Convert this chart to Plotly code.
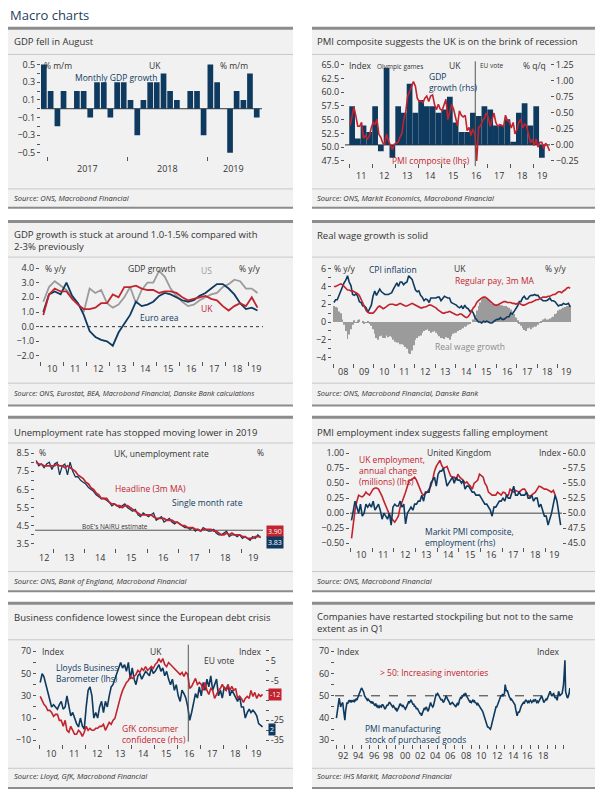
import pandas as pd
import plotly.graph_objects as go

W, H = 600, 797
DAY = 86400000
NAVY = "#0f3a5f"
RED = "#c1232f"
GREY = "#9b9b9b"
TXT = "#333333"
TICKC = "#555555"
FONT = "Open Sans"
PANEL = "#f1f1f1"
BORDER = "#8c8c8c"
SEP = "#c8c8c8"

# ---------------- 1. Monthly GDP growth, % m/m ----------------
gdp_mm_start = "2016-12-01"
gdp_mm = [0.5,
          0.2, -0.2, 0.2, 0.0, 0.2, 0.2, -0.1, 0.3, 0.3, -0.1, 0.3, 0.3,
          0.1, -0.3, 0.1, 0.3, 0.3, 0.4, 0.2, 0.1, 0.0, 0.2, 0.2, -0.3,
          0.5, 0.3, 0.0, -0.5, 0.2, 0.1, 0.4, -0.1]
c1_labels = ["2017", "2018", "2019"]
c1_label_dates = ["2017-07-01", "2018-07-01", "2019-05-01"]

# ---------------- 2. PMI composite vs GDP q/q ----------------
gdp_qq_start = "2011-01-01"
gdp_qq = [0.6, 0.1, 0.3, 0.2, 0.6, -0.1, 1.2, -0.2, 0.6, 0.5, 0.95, 0.5,
          0.7, 0.6, 0.6, 0.5, 0.55, 0.75, 0.35, 0.2, 0.2, 0.5, 0.45, 0.6,
          0.55, 0.3, 0.3, 0.4, 0.05, 0.5, 0.65, 0.3, 0.6, -0.2]
pmi_comp_start = "2011-01-01"
pmi_comp = [53.9, 56.0, 57.3, 55.7, 53.8, 53.8, 54.5, 51.6, 52.2, 51.4, 52.0, 53.5,
            54.5, 54.1, 55.1, 52.3, 51.8, 50.8, 50.4, 52.4, 51.1, 50.4, 49.6, 50.5,
            50.7, 50.9, 51.8, 52.5, 55.0, 56.4, 59.2, 60.2, 60.8, 61.9, 61.1, 58.9,
            58.3, 58.4, 58.1, 58.9, 59.3, 58.3, 59.3, 59.5, 57.8, 56.8, 57.8, 56.9,
            56.7, 57.7, 58.7, 55.0, 56.6, 57.8, 56.9, 55.1, 53.9, 56.6, 55.8, 55.5,
            55.8, 53.0, 53.6, 52.1, 53.3, 52.4, 47.5, 53.6, 53.9, 54.8, 55.2, 56.2,
            55.5, 53.8, 54.9, 56.2, 54.5, 53.8, 54.1, 54.0, 53.7, 55.8, 54.8, 54.7,
            53.5, 54.5, 52.4, 53.2, 54.5, 55.1, 53.5, 54.2, 53.9, 52.1, 50.8, 51.4,
            50.3, 51.5, 50.0, 50.9, 50.9, 49.7, 50.7, 50.2, 49.3]
eu_vote = "2016-06-23"
c2_labels = ["11", "12", "13", "14", "15", "16", "17", "18", "19"]
c2_label_dates = ["2011-07-01", "2012-07-01", "2013-07-01", "2014-07-01", "2015-07-01",
                  "2016-07-01", "2017-07-01", "2018-07-01", "2019-05-15"]

# ---------------- 3. GDP growth y/y ----------------
gdp_yy_start = "2010-01-01"
uk_yy = [0.8, 2.2, 2.6, 2.4, 2.4, 1.9, 1.5, 1.2, 1.2, 1.3, 1.6, 1.6, 2.2, 2.0, 2.7, 2.7,
         2.8, 2.6, 2.5, 2.5, 2.3, 2.4, 2.4, 2.3, 2.0, 1.8, 1.9, 2.0, 2.1, 1.9, 1.8, 1.4,
         1.1, 1.4, 1.6, 1.4, 2.0, 1.3]
ea_yy = [1.0, 2.2, 2.4, 2.2, 3.0, 2.1, 1.6, 0.8, -0.3, -0.7, -0.9, -1.0, -1.3, -0.4, 0.2, 0.8,
         1.7, 1.4, 1.5, 1.7, 2.1, 2.3, 2.2, 2.0, 1.8, 1.7, 1.8, 2.1, 2.3, 2.6, 2.9, 2.9,
         2.6, 2.2, 1.6, 1.2, 1.3, 1.1]
us_yy = [1.7, 2.7, 3.1, 2.8, 2.5, 2.0, 1.6, 1.0, 2.6, 2.3, 2.5, 1.6, 1.3, 1.5, 2.0, 2.7,
         1.6, 2.5, 3.0, 3.0, 3.8, 3.4, 2.6, 2.1, 1.7, 1.4, 1.5, 1.8, 2.0, 2.2, 2.3, 2.7,
         2.9, 3.2, 3.1, 2.6, 2.6, 2.3]
c3_labels = ["10", "11", "12", "13", "14", "15", "16", "17", "18", "19"]
c3_label_dates = ["2010-07-01", "2011-07-01", "2012-07-01", "2013-07-01", "2014-07-01",
                  "2015-07-01", "2016-07-01", "2017-07-01", "2018-07-01", "2019-04-15"]

# ---------------- 4. Real wage growth ----------------
wage_start = "2008-01-01"
cpi = [2.2, 2.5, 2.5, 3.0, 3.3, 3.8, 4.4, 4.7, 5.2, 4.5, 4.1, 3.1,
       3.0, 3.2, 2.9, 2.3, 2.2, 1.8, 1.8, 1.6, 1.1, 1.5, 1.9, 2.9,
       3.5, 3.0, 3.4, 3.7, 3.4, 3.2, 3.1, 3.1, 3.1, 3.2, 3.3, 3.7,
       4.0, 4.4, 4.0, 4.5, 4.5, 4.2, 4.4, 4.5, 5.2, 5.0, 4.8, 4.2,
       3.6, 3.4, 3.5, 3.0, 2.8, 2.4, 2.6, 2.5, 2.2, 2.7, 2.7, 2.7,
       2.7, 2.8, 2.8, 2.4, 2.7, 2.9, 2.8, 2.7, 2.7, 2.2, 2.1, 2.0,
       1.9, 1.7, 1.6, 1.8, 1.5, 1.9, 1.6, 1.5, 1.2, 1.3, 1.0, 0.5,
       0.3, 0.0, 0.0, -0.1, 0.1, 0.0, 0.1, 0.0, -0.1, -0.1, 0.1, 0.2,
       0.3, 0.3, 0.5, 0.3, 0.3, 0.5, 0.6, 0.6, 1.0, 0.9, 1.2, 1.6,
       1.8, 2.3, 2.3, 2.7, 2.9, 2.6, 2.6, 2.9, 3.0, 3.0, 3.1, 3.0,
       3.0, 2.7, 2.5, 2.4, 2.4, 2.4, 2.5, 2.7, 2.4, 2.4, 2.3, 2.1,
       1.8, 1.9, 1.9, 2.1, 2.0, 2.0, 2.1, 1.7]
pay = [4.0, 4.0, 4.1, 4.2, 4.3, 4.2, 4.0, 3.8, 3.6, 3.6, 3.5, 3.5,
       3.4, 3.3, 3.2, 3.0, 2.6, 2.0, 1.6, 1.3, 1.1, 1.0, 1.0, 1.0,
       1.2, 1.5, 1.7, 1.8, 1.6, 1.5, 1.6, 1.8, 1.9, 2.0, 2.0, 2.0,
       1.9, 1.9, 2.0, 2.1, 2.0, 1.9, 1.8, 1.8, 1.9, 2.0, 2.1, 2.0,
       1.9, 1.8, 1.7, 1.6, 1.6, 1.7, 1.7, 1.8, 1.9, 1.9, 1.8, 1.7,
       1.6, 1.4, 1.3, 1.1, 1.0, 1.0, 1.1, 1.1, 1.2, 1.1, 1.0, 0.9,
       0.8, 0.8, 0.9, 0.9, 0.7, 0.6, 0.5, 0.6, 0.9, 1.3, 1.6, 1.8,
       2.2, 2.4, 2.6, 2.7, 2.8, 2.8, 2.7, 2.5, 2.3, 2.1, 2.0, 1.9,
       1.9, 2.0, 2.1, 2.2, 2.3, 2.3, 2.2, 2.2, 2.2, 2.1, 2.1, 2.0,
       2.1, 2.1, 2.0, 1.9, 1.9, 2.0, 2.1, 2.2, 2.2, 2.3, 2.4, 2.5,
       2.5, 2.6, 2.7, 2.8, 2.8, 2.8, 2.9, 2.9, 3.0, 3.1, 3.1, 3.3,
       3.4, 3.4, 3.3, 3.5, 3.6, 3.8, 3.9, 3.8]
real_wage = [1.8, 1.7, 1.6, 1.2, 1.0, 0.3, -0.3, -1.0, -1.9, -1.4, -0.8, -0.3,
             0.2, -0.1, 0.2, 0.3, 0.0, 0.1, -0.2, -0.1, 0.1, -0.2, -0.4, -0.8,
             -1.3, -1.8, -2.0, -1.6, -1.5, -1.8, -1.8, -1.5, -1.7, -1.6, -1.7, -2.0,
             -2.2, -2.3, -2.3, -2.5, -2.5, -2.6, -2.8, -3.0, -3.5, -3.6, -3.2, -2.6,
             -2.0, -1.8, -1.6, -1.5, -1.2, -1.0, -0.9, -0.8, -1.0, -1.2, -1.1, -1.0,
             -1.2, -1.4, -1.6, -1.8, -1.8, -1.9, -1.7, -1.8, -2.0, -1.6, -1.3, -1.2,
             -1.2, -1.0, -0.9, -0.8, -0.7, -0.5, -0.5, -0.3, -0.2, 0.0, 0.3, 0.8,
             1.3, 1.8, 2.2, 2.5, 2.7, 2.8, 2.7, 2.5, 2.3, 2.1, 2.0, 1.9,
             1.9, 2.0, 1.9, 1.9, 1.8, 1.8, 1.7, 1.6, 1.4, 1.2, 0.9, 0.5,
             0.2, -0.2, -0.4, -0.7, -0.9, -1.0, -0.7, -0.6, -0.8, -0.6, -0.5, -0.5,
             -0.3, -0.1, 0.1, 0.3, 0.4, 0.3, 0.3, 0.4, 0.5, 0.6, 0.9, 1.0,
             1.3, 1.4, 1.5, 1.6, 1.7, 1.8, 1.8, 1.9]
c4_labels = ["08", "09", "10", "11", "12", "13", "14", "15", "16", "17", "18", "19"]
c4_label_dates = ["2008-07-01", "2009-07-01", "2010-07-01", "2011-07-01", "2012-07-01",
                  "2013-07-01", "2014-07-01", "2015-07-01", "2016-07-01", "2017-07-01",
                  "2018-07-01", "2019-06-05"]

# ---------------- 5. Unemployment rate ----------------
unemp_start = "2012-06-01"
unemp_3m = [8.0, 7.9, 7.9, 7.8, 7.8, 7.8, 7.8,
            7.8, 7.9, 7.8, 7.8, 7.7, 7.8, 7.7, 7.6, 7.5, 7.3, 7.2, 7.1,
            6.9, 6.8, 6.6, 6.5, 6.3, 6.2, 6.0, 6.0, 6.0, 5.8, 5.7, 5.7,
            5.6, 5.6, 5.5, 5.6, 5.6, 5.5, 5.4, 5.3, 5.2, 5.1, 5.1, 5.1,
            5.1, 5.1, 5.0, 4.9, 4.9, 4.9, 4.9, 4.8, 4.8, 4.8, 4.7, 4.7,
            4.6, 4.5, 4.5, 4.4, 4.4, 4.4, 4.3, 4.3, 4.2, 4.3, 4.3, 4.3,
            4.3, 4.2, 4.2, 4.1, 4.0, 4.0, 4.1, 4.0, 4.1, 4.0, 4.0, 4.0,
            3.9, 3.9, 3.8, 3.8, 3.8, 3.9, 3.9, 3.9]
unemp_1m = [8.1, 7.8, 7.9, 7.7, 7.9, 8.0, 7.6,
            7.9, 8.0, 7.3, 7.8, 7.9, 7.3, 8.0, 7.5, 7.2, 7.2, 7.0, 6.9,
            6.8, 6.6, 6.5, 6.4, 6.2, 6.1, 6.0, 6.0, 5.9, 5.8, 5.6, 5.7,
            5.6, 5.5, 5.6, 5.7, 5.5, 5.4, 5.3, 5.4, 5.1, 5.0, 5.2, 5.1,
            5.0, 5.1, 5.2, 4.8, 4.9, 5.0, 4.7, 4.8, 4.9, 4.7, 4.6, 4.7,
            4.6, 4.5, 4.4, 4.4, 4.3, 4.4, 4.2, 4.3, 4.2, 4.4, 4.3, 4.2,
            4.2, 4.3, 4.1, 4.0, 4.0, 4.1, 4.2, 3.9, 4.0, 4.0, 3.9, 4.0,
            3.8, 3.9, 3.8, 3.7, 3.9, 3.8, 4.0, 3.83]
nairu = 4.25
c5_labels = ["12", "13", "14", "15", "16", "17", "18", "19"]
c5_label_dates = ["2012-09-15", "2013-07-01", "2014-07-01", "2015-07-01", "2016-07-01",
                  "2017-07-01", "2018-07-01", "2019-05-20"]
c5_right_ticks = [3.5, 4.5, 5.5, 6.5, 7.5, 8.5]
c5_right_text = ["", "4.5", "5.5", "6.5", "7.5", "8.5"]

# ---------------- 6. Employment vs PMI employment ----------------
emp_start = "2010-01-01"
emp_change = [-0.42, -0.15, 0.05, 0.2, 0.3, 0.28, 0.27, 0.3, 0.35, 0.32, 0.3, 0.35,
              0.4, 0.42, 0.42, 0.4, 0.35, 0.28, 0.2, 0.12, 0.05, -0.02, -0.08, -0.12,
              -0.15, -0.1, -0.05, 0.1, 0.18, 0.25, 0.35, 0.45, 0.55, 0.55, 0.58, 0.6,
              0.55, 0.48, 0.4, 0.33, 0.3, 0.32, 0.35, 0.4, 0.45, 0.55, 0.7, 0.78,
              0.82, 0.88, 0.8, 0.75, 0.76, 0.78, 0.7, 0.62, 0.6, 0.6, 0.55, 0.65,
              0.6, 0.58, 0.55, 0.5, 0.52, 0.48, 0.45, 0.4, 0.5, 0.52, 0.55, 0.65,
              0.62, 0.6, 0.5, 0.45, 0.35, 0.32, 0.3, 0.3, 0.3, 0.35, 0.32, 0.3,
              0.35, 0.34, 0.3, 0.3, 0.4, 0.38, 0.35, 0.38, 0.36, 0.35, 0.38, 0.4,
              0.4, 0.35, 0.3, 0.28, 0.3, 0.33, 0.35, 0.4, 0.45, 0.44, 0.42, 0.4,
              0.4, 0.39, 0.37, 0.35, 0.38, 0.3]
pmi_emp = [48.8, 50.5, 52.0, 51.0, 50.0, 51.5, 49.5, 50.0, 51.5, 51.0, 51.5, 51.0,
           52.0, 50.5, 51.0, 51.5, 50.5, 49.0, 50.0, 49.5, 49.0, 50.0, 48.0, 51.0,
           51.5, 51.2, 51.2, 52.0, 51.0, 51.5, 48.2, 50.0, 50.5, 51.0, 50.5, 51.5,
           51.5, 52.0, 52.0, 53.0, 52.0, 53.5, 53.5, 53.5, 55.0, 55.5, 56.0, 54.5,
           56.5, 57.0, 57.0, 57.5, 56.0, 54.5, 55.0, 55.5, 56.0, 55.0, 56.0, 55.5,
           55.5, 55.0, 55.5, 54.0, 54.5, 54.5, 54.0, 53.5, 53.5, 53.0, 53.0, 53.0,
           52.5, 52.0, 51.5, 51.5, 51.0, 50.5, 49.5, 51.0, 51.0, 51.5, 52.0, 52.0,
           52.5, 52.0, 53.0, 52.5, 52.5, 53.5, 54.5, 53.0, 53.0, 53.5, 53.0, 53.0,
           53.0, 53.5, 52.5, 52.5, 53.0, 52.0, 52.5, 52.5, 51.0, 51.5, 50.5, 49.5,
           49.5, 48.0, 49.0, 50.0, 51.5, 53.0, 52.0, 50.0, 48.0]
c6_labels = ["10", "11", "12", "13", "14", "15", "16", "17", "18", "19"]
c6_label_dates = ["2010-07-01", "2011-07-01", "2012-07-01", "2013-07-01", "2014-07-01",
                  "2015-07-01", "2016-07-01", "2017-07-01", "2018-07-01", "2019-05-20"]

# ---------------- 7. Business and consumer confidence ----------------
conf_start = "2010-01-01"
lloyds = [42, 50, 47, 40, 33, 26, 20, 22, 20, 18, 22, 25,
          18, 20, 30, 22, 12, 15, 10, 5, 2, 10, 3, 0,
          20, 35, 38, 30, 10, 15, 10, 20, 25, 15, 25, 20,
          30, 38, 40, 45, 50, 55, 60, 55, 58, 52, 60, 45,
          55, 45, 40, 48, 50, 45, 48, 52, 50, 48, 55, 50,
          52, 55, 58, 52, 55, 48, 52, 45, 40, 45, 35, 40,
          30, 25, 35, 32, 28, 20, 8, 15, 25, 32, 28, 38,
          30, 42, 35, 45, 38, 48, 35, 40, 45, 30, 35, 28,
          38, 35, 40, 30, 35, 32, 28, 25, 30, 20, 20, 10,
          15, 18, 15, 17, 15, 12, 5, 3, 2]
gfk = [-13, -15, -17, -18, -20, -20, -21, -23, -22, -22, -25, -25,
       -28, -25, -30, -31, -28, -30, -32, -32, -30, -31, -33, -31,
       -28, -30, -29, -30, -30, -29, -29, -28, -28, -27, -30, -28,
       -26, -27, -25, -24, -20, -16, -13, -10, -8, -6, -5, -3,
       -4, -3, -2, 0, -1, 1, 0, 2, 0, 1, 2, 1,
       3, 4, 6, 4, 6, 3, 2, 4, 3, 2, 1, 0,
       -1, -2, -1, -3, -1, -2, -9, -8, -6, -4, -7, -6,
       -7, -10, -6, -10, -12, -9, -10, -14, -12, -10, -9, -7,
       -9, -10, -7, -10, -8, -10, -9, -14, -13, -14, -16, -14,
       -13, -14, -10, -13, -11, -14, -12, -13, -12]
c7_labels = ["10", "11", "12", "13", "14", "15", "16", "17", "18", "19"]
c7_label_dates = ["2010-07-01", "2011-07-01", "2012-07-01", "2013-07-01", "2014-07-01",
                  "2015-07-01", "2016-07-01", "2017-07-01", "2018-07-01", "2019-05-27"]
c7_right_ticks = [5, -5, -15, -25, -35]
c7_right_text = ["5", "-5", "", "-25", "-35"]

# ---------------- 8. PMI manufacturing stock of purchased goods ----------------
stocks_start = "1992-01-01"
stocks = [40.0, 43.0, 46.0, 47.0, 49.0, 47.0, 45.0, 46.0, 47.0, 47.0, 44.0, 41.0,
          39.0, 43.0, 46.0, 47.0, 46.5, 47.5, 48.0, 47.5, 48.0, 47.0, 48.0, 47.5,
          47.5, 48.0, 47.5, 48.0, 48.5, 48.0, 49.0, 50.0, 51.0, 51.5, 52.0, 53.0,
          53.5, 53.0, 52.0, 51.5, 50.0, 49.5, 49.0, 48.5, 48.0, 48.5, 48.0, 47.5,
          47.5, 47.0, 47.5, 46.5, 47.0, 46.0, 46.0, 45.5, 46.5, 45.5, 45.0, 45.5,
          45.0, 44.5, 45.5, 45.0, 45.0, 46.0, 46.0, 45.5, 45.0, 44.0, 44.5, 45.5,
          46.0, 45.5, 46.5, 47.0, 47.0, 46.5, 46.0, 45.5, 45.0, 45.5, 44.5, 44.5,
          44.0, 44.5, 43.0, 43.5, 44.5, 45.0, 46.0, 46.5, 45.5, 46.0, 45.0, 45.5,
          45.0, 44.5, 44.0, 44.5, 45.5, 46.0, 47.0, 47.5, 47.0, 47.5, 48.0, 47.5,
          47.0, 46.0, 46.5, 45.0, 45.5, 45.0, 44.0, 44.5, 43.5, 43.0, 42.5, 42.0,
          42.0, 41.0, 42.0, 43.0, 44.0, 44.5, 44.0, 45.0, 45.0, 44.0, 43.0, 43.5,
          45.0, 46.0, 47.0, 46.0, 45.5, 45.0, 45.5, 47.0, 48.0, 49.0, 51.0, 50.5,
          51.0, 50.5, 50.0, 49.5, 49.0, 48.0, 48.5, 47.5, 47.0, 47.5, 48.0, 49.0,
          50.0, 49.0, 48.5, 48.0, 47.5, 47.0, 46.0, 46.5, 47.0, 47.0, 46.5, 46.0,
          45.5, 45.0, 45.0, 46.0, 46.5, 46.0, 46.5, 48.0, 49.0, 49.5, 49.0, 50.0,
          50.0, 50.5, 50.0, 51.0, 51.0, 50.0, 49.5, 49.0, 48.5, 48.0, 47.0, 47.5,
          47.0, 47.5, 48.0, 47.5, 48.0, 47.0, 47.0, 46.5, 46.0, 46.5, 46.0, 45.5,
          45.0, 45.0, 44.5, 44.0, 43.0, 42.0, 41.0, 40.0, 38.0, 37.5, 37.0, 36.0,
          36.0, 35.5, 35.0, 35.0, 36.0, 37.5, 38.0, 40.0, 42.0, 43.0, 44.0, 45.0,
          45.0, 46.0, 47.0, 48.0, 49.0, 49.5, 50.0, 50.0, 50.5, 50.0, 50.5, 51.0,
          55.0, 54.0, 52.0, 52.5, 51.0, 50.0, 49.5, 49.0, 48.0, 48.5, 48.0, 47.5,
          47.0, 46.5, 46.0, 44.0, 42.0, 41.0, 42.0, 43.0, 42.5, 44.0, 45.0, 45.5,
          46.0, 46.5, 47.0, 46.5, 47.5, 48.0, 48.0, 47.5, 47.0, 47.5, 47.0, 47.5,
          48.0, 47.5, 47.0, 47.5, 48.0, 47.5, 48.0, 48.5, 47.5, 47.0, 47.5, 47.0,
          47.5, 48.0, 48.5, 49.0, 50.0, 49.0, 47.5, 47.0, 47.5, 48.0, 48.5, 48.0,
          49.0, 50.0, 50.5, 51.5, 52.0, 51.0, 50.0, 50.5, 51.0, 51.0, 50.0, 49.0,
          49.5, 48.5, 48.0, 50.0, 52.0, 51.0, 50.0, 50.5, 51.0, 51.0, 53.0, 55.0,
          60.0, 66.0, 52.0, 50.0, 49.5, 49.0, 50.0, 51.0, 53.5]
stocks_threshold = 50
c8_labels = ["92", "94", "96", "98", "00", "02", "04", "06", "08", "10", "12", "14", "16", "18"]
c8_label_dates = ["1992-11-10", "1994-08-22", "1996-07-01", "1998-03-15", "2000-03-07",
                  "2001-12-13", "2003-09-24", "2005-07-05", "2007-05-15", "2009-02-21",
                  "2011-01-15", "2012-12-10", "2014-09-01", "2016-07-24"]


# ======================= helpers =======================
def px_x(p):
    return p / W


def px_y(p):
    return 1 - p / H


def mid_months(start, n):
    return pd.date_range(start, periods=n, freq="MS") + pd.Timedelta(days=14)


def mid_quarters(start, n):
    return pd.date_range(start, periods=n, freq="QS") + pd.Timedelta(days=45)


ANN, SHP, LAYOUT = [], [], {}


def akey(kind, i):
    return f"{kind}axis" + ("" if i == 1 else str(i))


def aref(kind, i):
    return kind + ("" if i == 1 else str(i))


def y_axis(rng, dtick, tick0, fmt, side, minor=None, tickvals=None, ticktext=None):
    d = dict(range=rng, dtick=dtick, tick0=tick0, tickmode="linear", tickformat=fmt, side=side,
             ticks="outside", ticklen=3, tickwidth=1, tickcolor=TICKC,
             showgrid=False, zeroline=False, showline=False, fixedrange=True,
             tickfont=dict(family=FONT, size=9, color=TXT))
    if tickvals is not None:
        d.update(tickmode="array", tickvals=tickvals, ticktext=ticktext)
        d.pop("dtick")
        d.pop("tick0")
    if minor is not None:
        d["minor"] = dict(dtick=minor, tick0=0, ticks="outside", ticklen=3, tickwidth=1,
                          tickcolor=TICKC, showgrid=False)
    return d


def chart(k, box, xrange, label_dates, labels, label_y, left, right, base="left"):
    L, R, T, B = box
    bi, oi = 2 * k - 1, 2 * k
    LAYOUT[akey("x", k)] = dict(
        domain=[px_x(L), px_x(R)], range=xrange, type="date", anchor=aref("y", bi),
        tickmode="linear", dtick="M12", tick0="1990-01-01",
        ticks="outside", ticklen=4, tickwidth=1, tickcolor=TICKC, showticklabels=False,
        showgrid=False, zeroline=False, showline=False, fixedrange=True)
    for d, s in zip(label_dates, labels):
        ANN.append(dict(x=d, y=px_y(label_y), xref=aref("x", k), yref="paper", text=s,
                        showarrow=False, xanchor="center", yanchor="middle",
                        font=dict(family=FONT, size=9, color=TXT)))
    bd, od = (left, right) if base == "left" else (right, left)
    LAYOUT[akey("y", bi)] = dict(bd, domain=[px_y(B), px_y(T)], anchor=aref("x", k))
    LAYOUT[akey("y", oi)] = dict(od, overlaying=aref("y", bi), anchor=aref("x", k))
    if base == "left":
        return aref("x", k), aref("y", bi), aref("y", oi)
    return aref("x", k), aref("y", oi), aref("y", bi)


def text(x, y, s, size=8.5, color=TXT, anchor="left", **kw):
    ANN.append(dict(x=px_x(x), y=px_y(y), xref="paper", yref="paper", text=s, showarrow=False,
                    xanchor=anchor, yanchor="middle", align=anchor if anchor != "center" else "center",
                    font=dict(family=FONT, size=size, color=color), **kw))


def hline_px(x0, x1, y, color, width):
    SHP.append(dict(type="line", xref="paper", yref="paper", x0=px_x(x0), x1=px_x(x1),
                    y0=px_y(y), y1=px_y(y), line=dict(color=color, width=width), layer="below"))


def hline_data(x0, x1, yref, yval, color, width, dash="solid"):
    SHP.append(dict(type="line", xref="paper", yref=yref, x0=px_x(x0), x1=px_x(x1),
                    y0=yval, y1=yval, line=dict(color=color, width=width, dash=dash), layer="below"))


def vline_data(xref, xval, y0, y1, color="#555555", width=1):
    SHP.append(dict(type="line", xref=xref, yref="paper", x0=xval, x1=xval,
                    y0=px_y(y1), y1=px_y(y0), line=dict(color=color, width=width), layer="above"))


def line(fig, x, y, xa, ya, color, width=1.5):
    fig.add_trace(go.Scatter(x=x, y=y, mode="lines", line=dict(color=color, width=width),
                             xaxis=xa, yaxis=ya, hoverinfo="skip"))


# ======================= page frame =======================
fig = go.Figure()
text(8, 10, "Macro charts", size=13, color="#1f3d60")

rows = [  # top border, title separator, source separator, bottom border
    (23.5, 50, 186, 205),
    (219, 255, 382.5, 405),
    (417, 443, 573, 593),
    (605, 642, 772, 792),
]
for (top, tsep, ssep, bot) in rows:
    for (x0, x1) in [(8, 293), (312, 595)]:
        SHP.append(dict(type="rect", xref="paper", yref="paper", x0=px_x(x0), x1=px_x(x1),
                        y0=px_y(bot), y1=px_y(top), fillcolor=PANEL, line=dict(width=0), layer="below"))
        hline_px(x0, x1, top, BORDER, 3)
        hline_px(x0, x1, bot, BORDER, 2)
        hline_px(x0, x1, tsep, SEP, 1)
        hline_px(x0, x1, ssep, SEP, 1)

TS = 9.5
text(12, 37, "GDP fell in August", size=TS)
text(315, 37, "PMI composite suggests the UK is on the brink of recession", size=TS)
text(12, 237.8, "GDP growth is stuck at around 1.0-1.5% compared with<br>2-3% previously", size=TS)
text(315, 233, "Real wage growth is solid", size=TS)
text(12, 432, "Unemployment rate has stopped moving lower in 2019", size=TS)
text(315, 432, "PMI employment index suggests falling employment", size=TS)
text(12, 620, "Business confidence lowest since the European debt crisis", size=TS)
text(315, 624.5, "Companies have restarted stockpiling but not to the same<br>extent as in Q1", size=TS)

SS = 7.5
text(12, 195, "<i>Source: ONS, Macrobond Financial</i>", size=SS)
text(315, 195, "<i>Source: ONS, Markit Economics, Macrobond Financial</i>", size=SS)
text(12, 392, "<i>Source: ONS, Eurostat, BEA, Macrobond Financial, Danske Bank calculations</i>", size=7.2)
text(315, 392, "<i>Source: ONS, Macrobond Financial, Danske Bank</i>", size=SS)
text(12, 583, "<i>Source: ONS, Bank of England, Macrobond Financial</i>", size=SS)
text(315, 583, "<i>Source: ONS, Macrobond Financial</i>", size=SS)
text(12, 780, "<i>Source: Lloyd, GfK, Macrobond Financial</i>", size=SS)
text(315, 780, "<i>Source: IHS Markit, Macrobond Financial</i>", size=SS)

# ======================= chart 1 =======================
xa, yl, yr = chart(1, (41, 262, 57, 153), ["2016-12-02", "2019-09-08"], c1_label_dates, c1_labels, 165,
                   y_axis([-0.539, 0.537], 0.2, 0.1, ".1f", "left", minor=0.1),
                   y_axis([-0.539, 0.537], 0.2, 0.1, ".1f", "right", minor=0.1))
fig.add_trace(go.Bar(x=mid_months(gdp_mm_start, len(gdp_mm)), y=gdp_mm, width=26 * DAY,
                     marker=dict(color=NAVY, line=dict(width=0)), xaxis=xa, yaxis=yl, hoverinfo="skip"))
hline_data(41, 262, yl, 0, "#333333", 1)
text(42, 61, "% m/m")
text(147, 61, "UK")
text(218, 61, "% m/m")
text(73, 73, "Monthly GDP growth", color=NAVY)

# ======================= chart 2 =======================
xa, yl, yr = chart(2, (345, 550, 58, 160), ["2010-10-25", "2019-09-22"], c2_label_dates, c2_labels, 172,
                   y_axis([47.09, 65.41], 2.5, 0, ".1f", "left"),
                   y_axis([-0.285, 1.285], 0.25, 0, ".2f", "right"), base="right")
fig.add_trace(go.Bar(x=mid_quarters(gdp_qq_start, len(gdp_qq)), y=gdp_qq, width=91 * DAY,
                     marker=dict(color=NAVY, line=dict(width=0)), xaxis=xa, yaxis=yr, hoverinfo="skip"))
line(fig, mid_months(pmi_comp_start, len(pmi_comp)), pmi_comp, xa, yl, RED, 1.6)
hline_data(345, 550, yr, 0, "#333333", 1)
vline_data(xa, eu_vote, 57, 163)
text(347, 61, "Index")
text(375, 62, "Olympic games", size=6.5)
text(447, 61, "UK")
text(478, 61, "EU vote", size=6.5)
text(521, 61, "% q/q")
text(427, 77.5, "GDP<br>growth (rhs)", color=NAVY)
text(390, 157, "PMI composite (lhs)", color=RED)

# ======================= chart 3 =======================
xa, yl, yr = chart(3, (40, 263, 262, 360), ["2009-12-25", "2019-08-11"], c3_label_dates, c3_labels, 368,
                   y_axis([-2.337, 4.27], 1, 0, ".1f", "left"),
                   y_axis([-2.337, 4.27], 1, 0, ".1f", "right"))
hline_data(40, 263, yl, 0, "#333333", 1, dash="dot")
qx = mid_quarters(gdp_yy_start, len(uk_yy))
line(fig, qx, us_yy, xa, yl, GREY, 1.8)
line(fig, qx, ea_yy, xa, yl, NAVY, 1.8)
line(fig, qx, uk_yy, xa, yl, RED, 1.8)
text(43, 267, "% y/y")
text(126, 267, "GDP growth")
text(199, 269, "US", color=GREY)
text(237, 267, "% y/y")
text(199, 307, "UK", color=RED)
text(138, 316, "Euro area", color=NAVY)

# ======================= chart 4 =======================
xa, yl, yr = chart(4, (332, 575, 263, 362), ["2007-12-12", "2019-11-09"], c4_label_dates, c4_labels, 370.5,
                   y_axis([-4.59, 6.41], 2, 0, ".0f", "left", minor=1),
                   y_axis([-4.59, 6.41], 2, 0, ".0f", "right", minor=1))
mx = mid_months(wage_start, len(cpi))
fig.add_trace(go.Bar(x=mx, y=real_wage, width=17 * DAY, marker=dict(color=GREY, line=dict(width=0)),
                     xaxis=xa, yaxis=yl, hoverinfo="skip"))
line(fig, mx, cpi, xa, yl, NAVY, 1.6)
line(fig, mx, pay, xa, yl, RED, 1.6)
text(332, 267, "% y/y")
text(367, 268, "CPI inflation", color=NAVY)
text(452, 267, "UK")
text(543, 267, "% y/y")
text(453, 279, "Regular pay, 3m MA", color=RED)
text(433, 345, "Real wage growth", color="#8a8a8a")

# ======================= chart 5 =======================
xa, yl, yr = chart(5, (35, 265, 449, 549), ["2012-06-01", "2019-10-06"], c5_label_dates, c5_labels, 559,
                   y_axis([3.282, 8.734], 1, 0.5, ".1f", "left", minor=0.5),
                   y_axis([3.282, 8.734], 1, 0.5, ".1f", "right", minor=0.5,
                          tickvals=c5_right_ticks, ticktext=c5_right_text))
hline_data(35, 263, yl, nairu, "#555555", 1)
ux = mid_months(unemp_start, len(unemp_3m))
line(fig, ux, unemp_1m, xa, yl, NAVY, 1.3)
line(fig, ux, unemp_3m, xa, yl, RED, 1.8)
text(37, 453, "%")
text(112, 454, "UK, unemployment rate")
text(266, 453, "%", anchor="right")
text(113, 489, "Headline (3m MA)", color=RED)
text(170, 503, "Single month rate", color=NAVY)
text(80, 527, "BoE's NAIRU estimate", size=6.5)
text(275, 532.5, f"{unemp_3m[-1]:.2f}", size=7, color="white", anchor="center", bgcolor=RED, borderpad=1)
text(275, 543.5, f"{unemp_1m[-1]:.2f}", size=7, color="white", anchor="center", bgcolor=NAVY, borderpad=1)

# ======================= chart 6 =======================
xa, yl, yr = chart(6, (350, 562, 450, 548), ["2009-12-20", "2019-10-08"], c6_label_dates, c6_labels, 556,
                   y_axis([-0.561, 1.054], 0.25, 0, ".2f", "left"),
                   y_axis([44.39, 60.54], 2.5, 0, ".1f", "right"))
hline_data(350, 562, yl, 0, "#444444", 1)
line(fig, mid_months(emp_start, len(emp_change)), emp_change, xa, yl, RED, 1.6)
line(fig, mid_months(emp_start, len(pmi_emp)), pmi_emp, xa, yr, NAVY, 1.6)
text(425, 453, "United Kingdom")
text(537, 453, "Index")
text(357, 470.5, "UK employment,<br>annual change<br>(millions) (lhs)", color=RED)
text(423, 538, "Markit PMI composite,<br>employment (rhs)", color=NAVY)

# ======================= chart 7 =======================
xa, yl, yr = chart(7, (37, 265, 648, 747), ["2009-11-25", "2019-10-24"], c7_label_dates, c7_labels, 757.5,
                   y_axis([-12.93, 75.07], 20, 10, ".0f", "left", minor=10),
                   y_axis([-36.64, 12.43], 10, 5, ".0f", "right", minor=5,
                          tickvals=c7_right_ticks, ticktext=c7_right_text))
cx = mid_months(conf_start, len(lloyds))
line(fig, cx, lloyds, xa, yl, NAVY, 1.6)
line(fig, cx, gfk, xa, yr, RED, 1.6)
vline_data(xa, eu_vote, 647, 745)
text(40, 654, "Index")
text(148, 654, "UK")
text(237, 654, "Index")
text(202, 663, "EU vote")
text(54, 675.7, "Lloyds Business<br>Barometer (lhs)", color=NAVY)
text(120, 737.8, "GfK consumer<br>confidence (rhs)", color=RED)
text(275, 697, f"{gfk[-1]}", size=7, color="white", anchor="center", bgcolor=RED, borderpad=1)
text(271.5, 732.5, f"{lloyds[-1]}", size=7, color="white", anchor="center", bgcolor=NAVY, borderpad=1)

# ======================= chart 8 =======================
xa, yl, yr = chart(8, (335, 570, 648, 747), ["1991-11-15", "2019-09-22"], c8_label_dates, c8_labels, 759.5,
                   y_axis([28.53, 72.53], 10, 0, ".0f", "left", minor=5),
                   y_axis([28.53, 72.53], 10, 0, ".0f", "right", minor=5))
hline_data(335, 568, yl, stocks_threshold, "#333333", 1, dash="dash")
line(fig, mid_months(stocks_start, len(stocks)), stocks, xa, yl, NAVY, 1.6)
text(335, 654, "Index")
text(535, 654, "Index")
text(378, 675, "> 50: Increasing inventories", color=RED)
text(363, 737.5, "PMI manufacturing<br>stock of purchased goods", color=NAVY)

fig.update_layout(
    width=W, height=H, margin=dict(l=0, r=0, t=0, b=0),
    paper_bgcolor="white", plot_bgcolor="rgba(0,0,0,0)",
    showlegend=False, hovermode=False,
    font=dict(family=FONT, size=9, color=TXT),
    annotations=ANN, shapes=SHP, **LAYOUT)

fig.write_html("out.html", config={"displayModeBar": False},
               post_script="document.body.style.margin='0';document.body.style.overflow='hidden';")
